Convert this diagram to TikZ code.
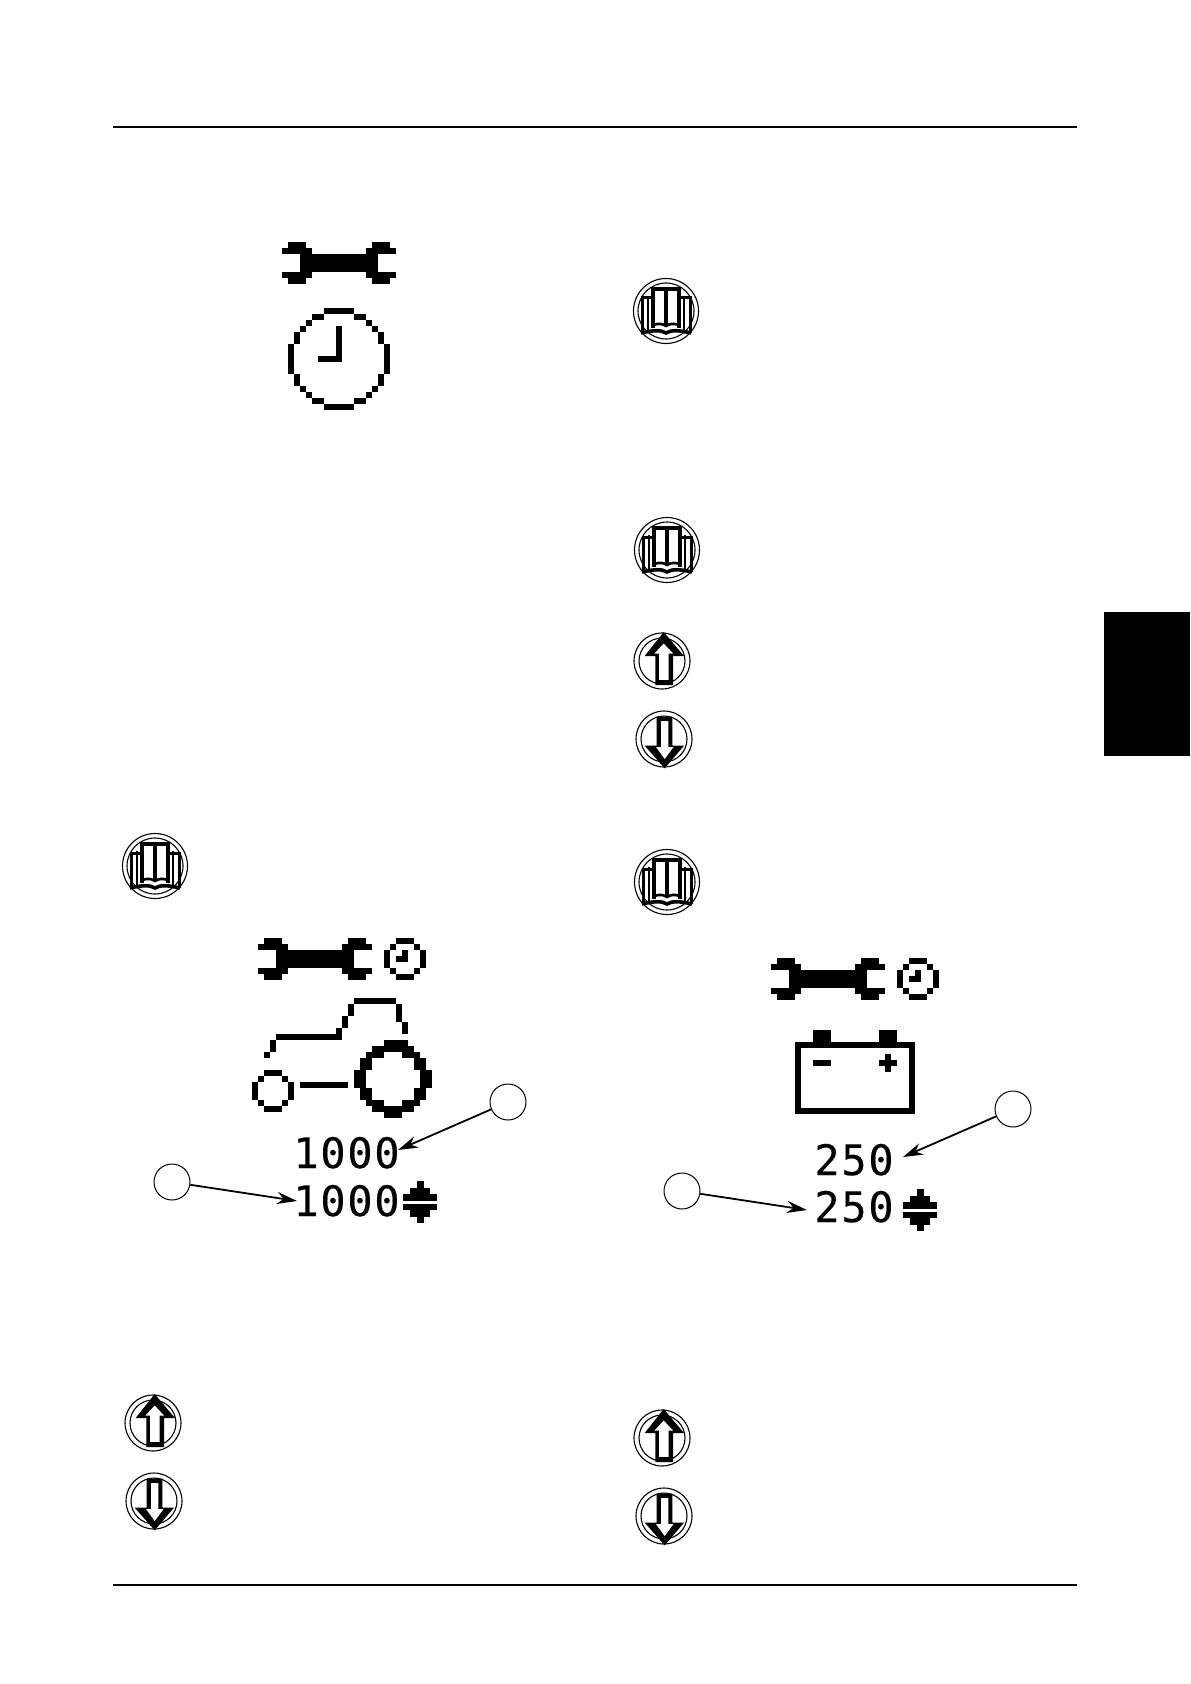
\documentclass[tikz,border=0pt]{standalone}
\usepackage{fontspec}
\usepackage{xcolor}
\usepackage{tikz}
\usetikzlibrary{arrows.meta,positioning}
\newfontfamily\lcdfont[LetterSpace=4,FakeBold=0.4]{DejaVu Sans Mono}
\tikzset{
  rule/.style={draw=black, line width=0.7pt},
  callout/.style={circle, draw=black, line width=0.5pt, fill=white, minimum size=18pt, inner sep=0pt},
  callarrow/.style={-{Stealth[length=10pt, width=6pt]}, draw=black, line width=0.9pt},
  lcd/.style={anchor=base west, inner sep=0pt, font=\lcdfont\fontsize{21}{21}\selectfont},
  ring/.style={draw=black, line width=0.55pt},
  pagebar/.style={draw=black, line width=1.3pt},
  wrench/.pic={
    \foreach \r/\a/\b in {0/1/3,0/15/17,1/0/4,1/14/18,2/3/15,3/3/15,4/3/15,5/0/4,5/14/18,6/1/3,6/15/17}
      \fill (\a*6,\r*6) rectangle (\b*6+6,\r*6+6);
  },
  bigclock/.pic={
    \foreach \r/\a/\b in {0/6/10,1/4/5,1/11/12,2/3/3,2/13/13,3/2/2,3/14/14,3/8/8,4/1/1,4/15/15,4/8/8,5/1/1,5/15/15,5/8/8,
        6/0/0,6/16/16,6/8/8,7/0/0,7/16/16,7/8/8,8/0/0,8/16/16,8/5/8,9/0/0,9/16/16,10/0/0,10/16/16,11/1/1,11/15/15,
        12/1/1,12/15/15,13/2/2,13/14/14,14/3/3,14/13/13,15/4/5,15/11/12,16/6/10}
      \fill (\a*6,\r*6) rectangle (\b*6+6,\r*6+6);
  },
  smallclock/.pic={
    \foreach \r/\a/\b in {0/2/4,1/1/1,1/5/5,2/0/0,2/6/6,2/3/3,3/0/0,3/6/6,3/2/3,4/0/0,4/6/6,5/1/1,5/5/5,6/2/4}
      \fill (\a*6,\r*6) rectangle (\b*6+6,\r*6+6);
  },
  tractor/.pic={
    \foreach \r/\a/\b in {0/17/23,1/16/16,1/24/24,2/16/16,2/24/24,3/15/15,3/24/24,4/15/15,4/25/25,5/14/14,5/25/25,6/4/14,
        7/3/3,8/3/3,9/2/2,
        12/2/4,13/1/1,13/5/5,14/0/0,14/6/6,15/0/0,15/6/6,16/0/0,16/6/6,17/1/1,17/5/5,18/2/4,14/8/15,
        7/22/25,8/20/26,9/19/21,9/25/27,10/18/19,10/27/28,11/18/19,11/27/28,12/17/18,12/28/29,13/17/18,13/28/29,14/17/18,14/28/29,
        15/18/19,15/27/28,16/18/19,16/27/28,17/19/21,17/25/27,18/20/26,19/22/24}
      \fill (\a*6,\r*6) rectangle (\b*6+6,\r*6+6);
  },
  updown/.pic={
    \foreach \t/\h in {0/3.5,6.5/10,13/17,22.5/17,29/10,35.5/3.5}
      \fill (-\h,\t) rectangle (\h,\t+6.5);
  },
  upkey/.pic={
    \draw[ring] (0,0) circle (28);
    \draw[ring] (0,0) circle (23);
    \fill (1.7,-29) -- (22,-5) -- (11,-5) -- (11,24) -- (-6.7,24) -- (-6.7,-5) -- (-17.3,-5) -- cycle;
    \fill[white] (1.7,-17.5) -- (11,-7.5) -- (6.7,-7.5) -- (6.7,18.8) -- (-3,18.8) -- (-3,-7.5) -- (-7.5,-7.5) -- cycle;
  },
  downkey/.pic={
    \draw[ring] (0,0) circle (28);
    \draw[ring] (0,0) circle (23);
    \fill (0.7,29.3) -- (-19.3,6.7) -- (-7.3,6.7) -- (-7.3,-22.3) -- (8.3,-22.3) -- (8.3,6.7) -- (20,6.7) -- cycle;
    \fill[white] (-3,-17.8) -- (4.3,-17.8) -- (4.3,8) -- (9.5,8) -- (0.7,20) -- (-8,8) -- (-3,8) -- cycle;
  },
  bookkey/.pic={
    \draw[ring] (0,0) circle (32.5);
    \draw[ring] (0,0) circle (28);
    \draw[line width=1.5pt] (-24,22) -- (-24,-13) -- (-12.5,-13) (24,22) -- (24,-13) -- (12.5,-13);
    \draw[line width=1.3pt] (-18,20) -- (-18,-15) (18,20) -- (18,-15);
    \draw[line width=1.9pt] (-13,17) -- (-13,-22) -- (13,-22) -- (13,17);
    \draw[line width=1.6pt] (0,-22) -- (0,15);
    \draw[line width=1.3pt] (-13,14) .. controls (-7,12) and (-3,13) .. (0,15) .. controls (3,13) and (7,12) .. (13,14);
    \draw[line width=1.8pt] (-25,22) .. controls (-12,19) and (-5,19) .. (0,22) .. controls (5,19) and (12,19) .. (25,22);
  },
}
\begin{document}
\begin{tikzpicture}[x=0.5pt, y=-0.5pt]
  \useasboundingbox (0,0) rectangle (1190,1684);
  % page furniture
  \draw[rule] (113,127) coordinate (ruleAa) -- (1077,127) coordinate (ruleAb);
  \draw[pagebar] (113,1585) coordinate (ruleBa) -- (1077,1585) coordinate (ruleBb);
  \fill[black] (1104,612) rectangle (1190,756);

  % upper left
  \pic at (282,242) {wrench};
  \pic at (288,308) {bigclock};

  % key icons
  \pic at (666,311) {bookkey};
  \pic at (667,550) {bookkey};
  \pic at (662,661) {upkey};
  \pic at (664,739) {downkey};
  \pic at (155,866) {bookkey};
  \pic at (667,882) {bookkey};
  \pic at (153,1423) {upkey};
  \pic at (154,1501) {downkey};
  \pic at (662,1438) {upkey};
  \pic at (664,1516) {downkey};

  % hour counter panel
  \pic at (258,938) {wrench};
  \pic at (384,938) {smallclock};
  \pic at (252,998) {tractor};
  \node[lcd] (actualA) at (293,1168) {1000};
  \node[lcd] (presetA) at (293,1216) {1000};
  \pic at (420,1181) {updown};
  \node[callout] (callAa) at (508,1102) {};
  \node[callout] (callAb) at (172,1182) {};
  \coordinate (tipAa) at (398,1150);
  \coordinate (tipAb) at (297,1201);
  \draw[callarrow] (callAa) -- (tipAa);
  \draw[callarrow] (callAb) -- (tipAb);

  % battery panel
  \pic at (771,958) {wrench};
  \pic at (897,958) {smallclock};
  \draw[line width=3pt] (798,1045) rectangle (912,1111);
  \fill (813,1030) rectangle (831,1042);
  \fill (879,1030) rectangle (897,1042);
  \fill (813,1060) rectangle (831,1066);
  \fill (879,1060) rectangle (897,1066);
  \fill (885,1054) rectangle (891,1072);
  \node[lcd] (actualB) at (814,1175) {250};
  \node[lcd] (presetB) at (814,1222) {250};
  \pic at (920,1189) {updown};
  \node[callout] (callBa) at (1013,1109) {};
  \node[callout] (callBb) at (682,1191) {};
  \coordinate (tipBa) at (903,1157);
  \coordinate (tipBb) at (807,1210);
  \draw[callarrow] (callBa) -- (tipBa);
  \draw[callarrow] (callBb) -- (tipBb);
\end{tikzpicture}
\end{document}
